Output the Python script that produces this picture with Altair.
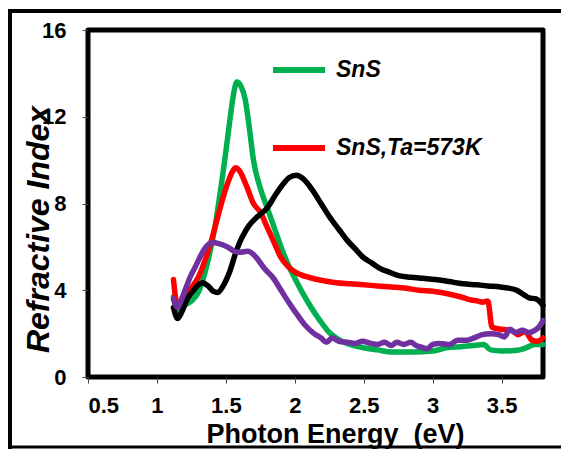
import altair as alt
import pandas as pd

# SnS (green)
e_sns = [1.12, 1.15, 1.20, 1.25, 1.30, 1.36, 1.42, 1.47, 1.50, 1.53, 1.56, 1.58, 1.61, 1.64, 1.67, 1.70, 1.75, 1.80, 1.85,
         1.90, 1.95, 2.00, 2.05, 2.10, 2.15, 2.20, 2.25, 2.30, 2.40, 2.50, 2.60, 2.70, 2.85, 3.00, 3.10, 3.20, 3.30,
         3.37, 3.42, 3.50, 3.60, 3.68, 3.74, 3.80]
n_sns = [3.7, 3.0, 3.3, 3.5, 3.9, 5.1, 6.9, 9.0, 10.4, 11.9, 13.2, 13.6, 13.4, 12.8, 11.5, 10.0, 8.7, 7.8, 6.9,
         6.0, 5.2, 4.55, 3.95, 3.4, 2.9, 2.45, 2.05, 1.8, 1.5, 1.35, 1.25, 1.15, 1.15, 1.2, 1.35, 1.4, 1.45,
         1.5, 1.25, 1.2, 1.22, 1.35, 1.5, 1.5]

# SnS, Ta=573K (red)
e_ta = [1.12, 1.14, 1.16, 1.20, 1.25, 1.30, 1.35, 1.40, 1.45, 1.50, 1.55, 1.57, 1.60, 1.65, 1.70, 1.75, 1.80, 1.85,
        1.90, 1.95, 2.00, 2.05, 2.10, 2.20, 2.30, 2.40, 2.50, 2.60, 2.70, 2.80, 2.90, 3.00, 3.10, 3.20, 3.28, 3.33,
        3.36, 3.40, 3.43, 3.50, 3.57, 3.62, 3.67, 3.72, 3.76, 3.80]
n_ta = [4.5, 3.5, 3.3, 3.6, 4.1, 4.6, 5.4, 6.4, 7.6, 8.7, 9.5, 9.65, 9.5, 8.8, 8.0, 7.6, 6.9, 6.2,
        5.5, 5.1, 4.85, 4.7, 4.6, 4.45, 4.35, 4.3, 4.25, 4.2, 4.15, 4.1, 4.0, 3.95, 3.85, 3.7, 3.55, 3.5,
        3.45, 3.5, 2.3, 2.2, 2.15, 1.95, 2.1, 1.7, 1.65, 1.8]

# black curve
e_blk = [1.12, 1.15, 1.18, 1.22, 1.26, 1.30, 1.33, 1.37, 1.41, 1.44, 1.48, 1.53, 1.57, 1.60, 1.64, 1.67, 1.73, 1.80,
         1.86, 1.91, 1.96, 2.01, 2.06, 2.13, 2.19, 2.25, 2.32, 2.38, 2.44, 2.49, 2.56, 2.62, 2.68, 2.74, 2.84, 2.93,
         3.02, 3.12, 3.22, 3.32, 3.40, 3.49, 3.55, 3.61, 3.66, 3.70, 3.75, 3.78, 3.80]
n_blk = [3.2, 2.7, 3.0, 3.6, 3.95, 4.25, 4.35, 4.2, 3.95, 3.9, 4.2, 4.9, 5.7, 6.2, 6.7, 7.0, 7.4, 7.8,
         8.4, 8.85, 9.2, 9.3, 9.15, 8.6, 8.0, 7.4, 6.8, 6.3, 5.9, 5.55, 5.25, 5.0, 4.85, 4.7, 4.6, 4.55,
         4.5, 4.4, 4.3, 4.25, 4.2, 4.15, 4.1, 4.0, 3.8, 3.65, 3.6, 3.45, 3.3]

# purple curve
e_pur = [1.12, 1.15, 1.18, 1.21, 1.24, 1.28, 1.31, 1.35, 1.40, 1.45, 1.51, 1.56, 1.60, 1.66, 1.70, 1.74, 1.78, 1.84,
         1.90, 1.96, 2.02, 2.08, 2.14, 2.19, 2.23, 2.27, 2.32, 2.38, 2.44, 2.49, 2.55, 2.60, 2.65, 2.70, 2.74, 2.79,
         2.84, 2.88, 2.93, 2.96, 3.00, 3.05, 3.12, 3.18, 3.25, 3.30, 3.36, 3.42, 3.48, 3.52, 3.56, 3.60, 3.65, 3.70,
         3.74, 3.77, 3.80]
n_pur = [3.6, 3.2, 3.6, 4.1, 4.6, 5.1, 5.5, 5.95, 6.2, 6.15, 6.0, 5.8, 5.75, 5.8, 5.65, 5.35, 5.0, 4.6,
         4.0, 3.4, 2.85, 2.35, 2.0, 1.8, 1.6, 1.8, 1.65, 1.6, 1.55, 1.65, 1.55, 1.5, 1.6, 1.45, 1.6, 1.5,
         1.6, 1.45, 1.35, 1.3, 1.5, 1.55, 1.5, 1.7, 1.7, 1.8, 1.95, 2.0, 1.95, 1.85, 2.2, 2.05, 2.15, 2.05,
         2.15, 2.3, 2.6]

series_names = ["SnS", "SnS,Ta=573K", "Sample 3", "Sample 4"]
series_colors = ["#00B050", "#FF0000", "#000000", "#7030A0"]
x_ticks = [0.5, 1, 1.5, 2, 2.5, 3, 3.5]
y_ticks = [0, 4, 8, 12, 16]

frames = []
for name, xs, ys in zip(series_names, [e_sns, e_ta, e_blk, e_pur], [n_sns, n_ta, n_blk, n_pur]):
    frames.append(pd.DataFrame({"energy": xs, "n": ys, "series": name}))
df = pd.concat(frames, ignore_index=True)

FONT = "Liberation Sans"

color = alt.Color(
    "series:N",
    scale=alt.Scale(domain=series_names, range=series_colors),
    legend=alt.Legend(
        values=["SnS", "SnS,Ta=573K"], title=None, orient="none", legendX=182, legendY=11,
        symbolType="stroke", symbolSize=2704, symbolStrokeWidth=6,
        labelFont=FONT, labelFontSize=23, labelFontWeight="bold", labelFontStyle="italic",
        labelColor="black", labelOffset=8, rowPadding=37, padding=0, labelLimit=400,
    ),
)

xenc = alt.X(
    "energy:Q",
    scale=alt.Scale(domain=[0.5, 3.8], nice=False, zero=False),
    axis=alt.Axis(
        values=x_ticks, format="~g", title="Photon Energy\u00a0 (eV)", domain=False, grid=False,
        tickSize=6, tickColor="#444", tickWidth=1,
        labelFont=FONT, labelFontSize=22, labelFontWeight="bold", labelColor="black",
        labelPadding=12,
        titleFont=FONT, titleFontSize=27, titleFontWeight="bold", titleColor="black",
        titleX=247, titleY=65, titleBaseline="alphabetic", titleAlign="center",
    ),
)
yenc = alt.Y(
    "n:Q",
    scale=alt.Scale(domain=[0, 16], nice=False),
    axis=alt.Axis(
        values=y_ticks, title="Refractive Index", domain=False, grid=False,
        tickSize=6, tickColor="#444", tickWidth=1,
        labelFont=FONT, labelFontSize=22, labelFontWeight="bold", labelColor="black",
        labelPadding=16,
        titleFont=FONT, titleFontSize=32, titleFontWeight="bold", titleFontStyle="italic",
        titleColor="black", titleAngle=-90, titleX=-40, titleY=199,
        titleBaseline="alphabetic", titleAlign="center",
    ),
)

layers = []
for name in series_names:
    layers.append(
        alt.Chart(df).transform_filter(alt.datum.series == name)
        .mark_line(strokeWidth=5.5, interpolate="monotone", strokeCap="round", strokeJoin="round")
        .encode(x=xenc, y=yenc, color=color)
    )

frame_df = pd.DataFrame({"k": [0]})
frame_top = alt.Chart(frame_df).mark_rule(color="black", strokeWidth=4).encode(
    x=alt.value(-79), x2=alt.value(490), y=alt.value(-19))
frame_left = alt.Chart(frame_df).mark_rule(color="black", strokeWidth=4).encode(
    x=alt.value(-78), y=alt.value(-21), y2=alt.value(419))
frame_bottom = alt.Chart(frame_df).mark_rule(color="black", strokeWidth=3).encode(
    x=alt.value(-80), x2=alt.value(490), y=alt.value(417))

chart = alt.layer(*layers, frame_top, frame_left, frame_bottom).properties(
    width=455, height=347,
    autosize=alt.AutoSizeParams(type="none"),
    padding={"left": 80, "top": 22, "right": 18, "bottom": 72},
    background="white",
).configure_view(stroke="black", strokeWidth=5, strokeJoin="round")

chart.save("out.html", embed_options={"renderer": "svg", "actions": False})
